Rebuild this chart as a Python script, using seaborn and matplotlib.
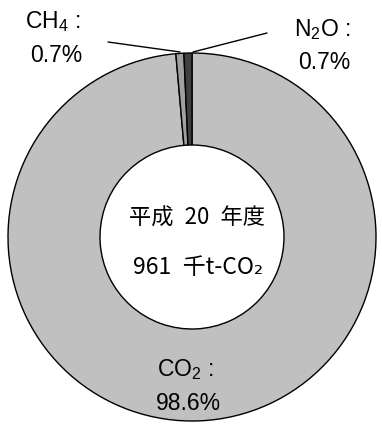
import matplotlib
matplotlib.use("Agg")
import matplotlib.pyplot as plt
import seaborn as sns

# Greenhouse gas emissions by gas, FY2008 (Heisei 20)
gases = ["CO$_{\\mathregular{2}}$", "CH$_{\\mathregular{4}}$", "N$_{\\mathregular{2}}$O"]
shares = [98.6, 0.7, 0.7]
total_kt = 961
year_label = "平成\u200220\u2002年度"
colors = ["#c0c0c0", "#a0a0a0", "#404040"]

sns.set_theme(style="white")
plt.rcParams["font.family"] = ["Liberation Sans", "Noto Sans CJK JP", "DejaVu Sans"]
plt.rcParams["mathtext.fontset"] = "custom"
plt.rcParams["mathtext.rm"] = "Liberation Sans"
plt.rcParams["mathtext.it"] = "Liberation Sans"
plt.rcParams["mathtext.default"] = "regular"
plt.rcParams["text.color"] = "black"

W, H = 382, 427
fig = plt.figure(figsize=(W / 100, H / 100), dpi=100)
cx, cy, r = 192, 238, 184
ax = fig.add_axes([(cx - r) / W, (H - cy - r) / H, 2 * r / W, 2 * r / H])

ax.pie(shares, colors=colors, startangle=90, counterclock=False,
       radius=1.0,
       wedgeprops=dict(width=0.5, edgecolor="black", linewidth=1.0))
ax.set_xlim(-1, 1)
ax.set_ylim(-1, 1)
ax.set_aspect("equal")
ax.axis("off")


def px(x, y):
    return x / W, 1 - y / H


fs = 16.5
# gas labels
fig.text(*px(53, 22), gases[1] + " :", ha="center", va="center", fontsize=fs, color="black")
fig.text(*px(56, 55), f"{shares[1]}%", ha="center", va="center", fontsize=fs, color="black")
fig.text(*px(322, 30), gases[2] + " :", ha="center", va="center", fontsize=fs, color="black")
fig.text(*px(324, 63), f"{shares[2]}%", ha="center", va="center", fontsize=fs, color="black")
fig.text(*px(185, 370), gases[0] + " :", ha="center", va="center", fontsize=fs, color="black")
fig.text(*px(188, 404), f"{shares[0]}%", ha="center", va="center", fontsize=fs, color="black")

# leader lines
for (x0, y0), (x1, y1) in [((108, 43), (180, 53)), ((267, 34), (193, 53))]:
    fig.add_artist(plt.Line2D([x0 / W, x1 / W], [1 - y0 / H, 1 - y1 / H],
                              color="black", linewidth=1.0))

# centre caption
fig.text(*px(197, 218), year_label, ha="center", va="center", fontsize=16,
         color="black", family=["Noto Sans CJK JP", "DejaVu Sans"])
fig.text(*px(198, 267), f"{total_kt}\u2002千t-CO₂",
         ha="center", va="center", fontsize=16.5, color="black",
         family=["Noto Sans CJK JP", "DejaVu Sans"])

fig.savefig("out.png", dpi=100, facecolor="white")
